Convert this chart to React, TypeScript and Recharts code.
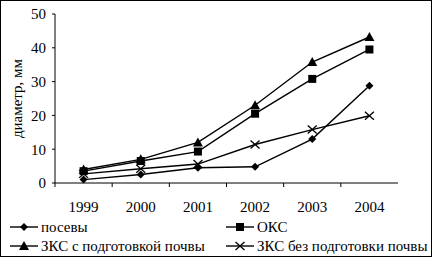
import React from "react";
import { LineChart, Line, XAxis, YAxis } from "recharts";

const years = ["1999", "2000", "2001", "2002", "2003", "2004"];
const posevy = [1, 2.5, 4.5, 4.8, 13, 28.8];
const oks = [3.5, 6.5, 9.3, 20.5, 30.8, 39.5];
const zksWith = [4, 7, 12, 23, 35.8, 43.2];
const zksWithout = [2.7, 4.2, 5.6, 11.4, 15.8, 19.9];
const yTicks = [0, 10, 20, 30, 40, 50];

const data = years.map((year, i) => ({
  year,
  posevy: posevy[i],
  oks: oks[i],
  zksWith: zksWith[i],
  zksWithout: zksWithout[i],
}));

const FONT = "'Liberation Serif', 'Times New Roman', serif";

type Shape = "diamond" | "square" | "triangle" | "cross";

function Marker({ cx, cy, shape }: { cx: number; cy: number; shape: Shape }) {
  if (cx == null || cy == null) return null;
  if (shape === "diamond") {
    const r = 4;
    return (
      <polygon
        points={`${cx},${cy - r} ${cx + r},${cy} ${cx},${cy + r} ${cx - r},${cy}`}
        fill="#000"
      />
    );
  }
  if (shape === "square") {
    return <rect x={cx - 4} y={cy - 4} width={8} height={8} fill="#000" />;
  }
  if (shape === "triangle") {
    return (
      <polygon
        points={`${cx},${cy - 5} ${cx + 5},${cy + 4} ${cx - 5},${cy + 4}`}
        fill="#000"
      />
    );
  }
  return (
    <g stroke="#000" strokeWidth={1.3}>
      <line x1={cx - 4.5} y1={cy - 4} x2={cx + 4.5} y2={cy + 4} />
      <line x1={cx - 4.5} y1={cy + 4} x2={cx + 4.5} y2={cy - 4} />
    </g>
  );
}

const dotOf = (shape: Shape) => (props: any) => (
  <Marker key={props.index} cx={props.cx} cy={props.cy} shape={shape} />
);

const XTick = (props: any) => {
  const { x, y, payload } = props;
  const half = payload.offset || 28.6;
  return (
    <g>
      <line x1={x - half} y1={y} x2={x - half} y2={y + 4} stroke="#000" />
      <text x={x} y={y + 29} textAnchor="middle" fontSize={15} fontFamily={FONT} fill="#000">
        {payload.value}
      </text>
    </g>
  );
};

const YLabel = (props: any) => {
  const vb = props.viewBox || {};
  const cy = (vb.y || 14) + (vb.height || 169) / 2;
  return (
    <text
      x={17}
      y={cy}
      transform={`rotate(-90, 17, ${cy})`}
      textAnchor="middle"
      dominantBaseline="central"
      fontSize={15}
      fontFamily={FONT}
      fill="#000"
    >
      диаметр, мм
    </text>
  );
};

const series: { key: string; name: string; shape: Shape }[] = [
  { key: "posevy", name: "посевы", shape: "diamond" },
  { key: "oks", name: "ОКС", shape: "square" },
  { key: "zksWith", name: "ЗКС с подготовкой почвы", shape: "triangle" },
  { key: "zksWithout", name: "ЗКС без подготовки почвы", shape: "cross" },
];

const legendPos = [
  { left: 10, top: 226 },
  { left: 226, top: 226 },
  { left: 10, top: 245 },
  { left: 226, top: 245 },
];

export default function App() {
  return (
    <div
      style={{
        position: "absolute",
        left: 0,
        top: 0,
        width: 432,
        height: 257,
        boxSizing: "border-box",
        border: "1px solid #000",
        background: "#fff",
        fontFamily: FONT,
      }}
    >
      <div style={{ position: "absolute", left: -1, top: -1 }}>
        <LineChart
          width={432}
          height={257}
          data={data}
          margin={{ top: 14, right: 34, bottom: 0, left: 0 }}
        >
          <XAxis
            dataKey="year"
            scale="band"
            height={74}
            tickSize={0}
            tickMargin={0}
            tick={<XTick />}
            axisLine={{ stroke: "#000" }}
            tickLine={false}
          />
          <XAxis
            xAxisId="top"
            dataKey="year"
            scale="band"
            orientation="top"
            height={0}
            tick={false}
            tickLine={false}
            axisLine={{ stroke: "#000" }}
          />
          <YAxis
            width={55}
            domain={[0, 50]}
            ticks={yTicks}
            tickSize={3}
            tickMargin={6}
            tick={{ fontSize: 15, fontFamily: FONT, fill: "#000" }}
            tickLine={{ stroke: "#000" }}
            axisLine={{ stroke: "#000" }}
            label={<YLabel />}
          />
          <YAxis
            yAxisId="right"
            orientation="right"
            type="number"
            domain={[0, 50]}
            width={0}
            tick={false}
            tickLine={false}
            axisLine={{ stroke: "#000" }}
          />
          {series.map((s) => (
            <Line
              key={s.key}
              type="linear"
              dataKey={s.key}
              name={s.name}
              stroke="#000"
              strokeWidth={1.4}
              dot={dotOf(s.shape)}
              activeDot={false}
              isAnimationActive={false}
            />
          ))}
        </LineChart>
      </div>
      {series.map((s, i) => (
        <div
          key={s.key}
          style={{
            position: "absolute",
            left: legendPos[i].left - 1,
            top: legendPos[i].top - 10,
            height: 20,
            display: "flex",
            alignItems: "center",
            whiteSpace: "nowrap",
            fontSize: 15,
            color: "#000",
          }}
        >
          <svg width={31} height={20} style={{ display: "block" }}>
            <line x1={0} y1={10} x2={28} y2={10} stroke="#000" strokeWidth={1.4} />
            <Marker cx={14} cy={10} shape={s.shape} />
          </svg>
          <span>{s.name}</span>
        </div>
      ))}
    </div>
  );
}
